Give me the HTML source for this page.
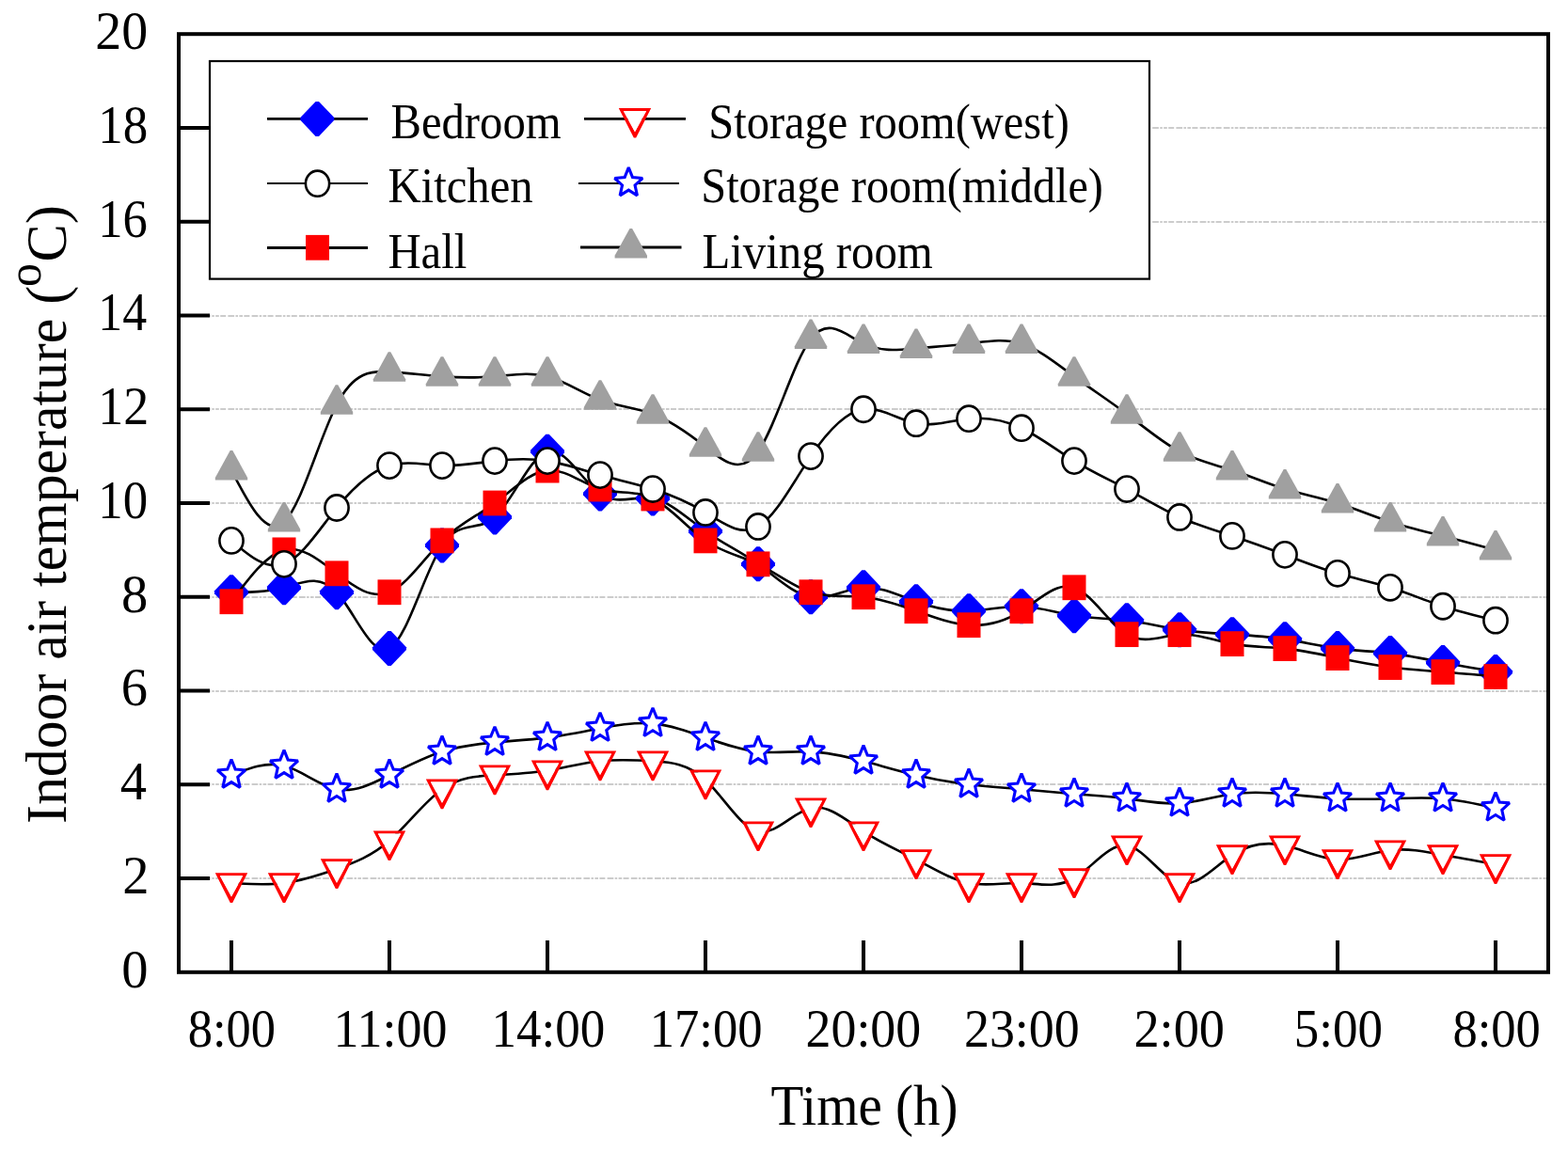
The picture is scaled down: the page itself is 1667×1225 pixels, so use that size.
<!DOCTYPE html>
<html><head><meta charset="utf-8"><title>Indoor air temperature</title>
<style>html,body{margin:0;padding:0;background:#fff;overflow:hidden}svg{display:block}</style>
</head><body>
<svg width="1667" height="1225" viewBox="0 0 1667 1225" font-family="'Liberation Serif','Times New Roman',serif">
<rect width="1667" height="1225" fill="#fff"/>
<line x1="192" y1="934.00" x2="1644" y2="934.00" stroke="#cccccc" stroke-width="2" stroke-dasharray="6.7,1.4,2.5,1.4,3.6,1.4,6,2.2"/>
<line x1="192" y1="834.00" x2="1644" y2="834.00" stroke="#cccccc" stroke-width="2" stroke-dasharray="6.7,1.4,2.5,1.4,3.6,1.4,6,2.2"/>
<line x1="192" y1="735.00" x2="1644" y2="735.00" stroke="#cccccc" stroke-width="2" stroke-dasharray="6.7,1.4,2.5,1.4,3.6,1.4,6,2.2"/>
<line x1="192" y1="635.00" x2="1644" y2="635.00" stroke="#cccccc" stroke-width="2" stroke-dasharray="6.7,1.4,2.5,1.4,3.6,1.4,6,2.2"/>
<line x1="192" y1="535.00" x2="1644" y2="535.00" stroke="#cccccc" stroke-width="2" stroke-dasharray="6.7,1.4,2.5,1.4,3.6,1.4,6,2.2"/>
<line x1="192" y1="435.00" x2="1644" y2="435.00" stroke="#cccccc" stroke-width="2" stroke-dasharray="6.7,1.4,2.5,1.4,3.6,1.4,6,2.2"/>
<line x1="192" y1="336.00" x2="1644" y2="336.00" stroke="#cccccc" stroke-width="2" stroke-dasharray="6.7,1.4,2.5,1.4,3.6,1.4,6,2.2"/>
<line x1="192" y1="236.00" x2="1644" y2="236.00" stroke="#cccccc" stroke-width="2" stroke-dasharray="6.7,1.4,2.5,1.4,3.6,1.4,6,2.2"/>
<line x1="192" y1="136.00" x2="1644" y2="136.00" stroke="#cccccc" stroke-width="2" stroke-dasharray="6.7,1.4,2.5,1.4,3.6,1.4,6,2.2"/>
<path d="M246.00,629.76 C264.67,629.78 283.33,629.80 302.00,624.78 C320.67,619.75 339.33,609.69 358.00,629.76 C376.67,649.84 395.33,700.06 414.00,689.61 C432.67,679.16 451.33,608.05 470.00,579.89 C488.67,551.73 507.33,566.53 526.00,549.96 C544.67,533.40 563.33,485.47 582.00,480.14 C600.67,474.81 619.33,512.08 638.00,525.03 C656.67,537.97 675.33,526.59 694.00,530.01 C712.67,533.43 731.33,551.66 750.00,564.92 C768.67,578.19 787.33,586.50 806.00,599.84 C824.67,613.18 843.33,631.54 862.00,634.75 C880.67,637.96 899.33,626.00 918.00,624.78 C936.67,623.55 955.33,633.05 974.00,639.74 C992.67,646.42 1011.33,650.30 1030.00,649.71 C1048.67,649.13 1067.33,644.09 1086.00,644.73 C1104.67,645.36 1123.33,651.68 1142.00,654.70 C1160.67,657.72 1179.33,657.43 1198.00,659.69 C1216.67,661.95 1235.33,666.75 1254.00,669.66 C1272.67,672.58 1291.33,673.60 1310.00,674.65 C1328.67,675.70 1347.33,676.78 1366.00,679.64 C1384.67,682.50 1403.33,687.14 1422.00,689.61 C1440.67,692.09 1459.33,692.39 1478.00,694.60 C1496.67,696.81 1515.33,700.93 1534.00,704.58 C1552.67,708.22 1571.33,711.38 1590.00,714.55" fill="none" stroke="#000" stroke-width="2.6"/>
<path d="M244.30,611.26 L247.70,611.26 L264.00,628.36 L264.00,631.16 L247.70,648.26 L244.30,648.26 L228.00,631.16 L228.00,628.36Z" fill="#00f"/><path d="M300.30,606.28 L303.70,606.28 L320.00,623.38 L320.00,626.18 L303.70,643.28 L300.30,643.28 L284.00,626.18 L284.00,623.38Z" fill="#00f"/><path d="M356.30,611.26 L359.70,611.26 L376.00,628.36 L376.00,631.16 L359.70,648.26 L356.30,648.26 L340.00,631.16 L340.00,628.36Z" fill="#00f"/><path d="M412.30,671.11 L415.70,671.11 L432.00,688.21 L432.00,691.01 L415.70,708.11 L412.30,708.11 L396.00,691.01 L396.00,688.21Z" fill="#00f"/><path d="M468.30,561.39 L471.70,561.39 L488.00,578.49 L488.00,581.29 L471.70,598.39 L468.30,598.39 L452.00,581.29 L452.00,578.49Z" fill="#00f"/><path d="M524.30,531.46 L527.70,531.46 L544.00,548.56 L544.00,551.36 L527.70,568.46 L524.30,568.46 L508.00,551.36 L508.00,548.56Z" fill="#00f"/><path d="M580.30,461.64 L583.70,461.64 L600.00,478.74 L600.00,481.54 L583.70,498.64 L580.30,498.64 L564.00,481.54 L564.00,478.74Z" fill="#00f"/><path d="M636.30,506.53 L639.70,506.53 L656.00,523.63 L656.00,526.43 L639.70,543.53 L636.30,543.53 L620.00,526.43 L620.00,523.63Z" fill="#00f"/><path d="M692.30,511.51 L695.70,511.51 L712.00,528.61 L712.00,531.41 L695.70,548.51 L692.30,548.51 L676.00,531.41 L676.00,528.61Z" fill="#00f"/><path d="M748.30,546.42 L751.70,546.42 L768.00,563.52 L768.00,566.32 L751.70,583.42 L748.30,583.42 L732.00,566.32 L732.00,563.52Z" fill="#00f"/><path d="M804.30,581.34 L807.70,581.34 L824.00,598.44 L824.00,601.24 L807.70,618.34 L804.30,618.34 L788.00,601.24 L788.00,598.44Z" fill="#00f"/><path d="M860.30,616.25 L863.70,616.25 L880.00,633.35 L880.00,636.15 L863.70,653.25 L860.30,653.25 L844.00,636.15 L844.00,633.35Z" fill="#00f"/><path d="M916.30,606.28 L919.70,606.28 L936.00,623.38 L936.00,626.18 L919.70,643.28 L916.30,643.28 L900.00,626.18 L900.00,623.38Z" fill="#00f"/><path d="M972.30,621.24 L975.70,621.24 L992.00,638.34 L992.00,641.14 L975.70,658.24 L972.30,658.24 L956.00,641.14 L956.00,638.34Z" fill="#00f"/><path d="M1028.30,631.21 L1031.70,631.21 L1048.00,648.31 L1048.00,651.11 L1031.70,668.21 L1028.30,668.21 L1012.00,651.11 L1012.00,648.31Z" fill="#00f"/><path d="M1084.30,626.23 L1087.70,626.23 L1104.00,643.33 L1104.00,646.12 L1087.70,663.23 L1084.30,663.23 L1068.00,646.12 L1068.00,643.33Z" fill="#00f"/><path d="M1140.30,636.20 L1143.70,636.20 L1160.00,653.30 L1160.00,656.10 L1143.70,673.20 L1140.30,673.20 L1124.00,656.10 L1124.00,653.30Z" fill="#00f"/><path d="M1196.30,641.19 L1199.70,641.19 L1216.00,658.29 L1216.00,661.09 L1199.70,678.19 L1196.30,678.19 L1180.00,661.09 L1180.00,658.29Z" fill="#00f"/><path d="M1252.30,651.16 L1255.70,651.16 L1272.00,668.26 L1272.00,671.06 L1255.70,688.16 L1252.30,688.16 L1236.00,671.06 L1236.00,668.26Z" fill="#00f"/><path d="M1308.30,656.15 L1311.70,656.15 L1328.00,673.25 L1328.00,676.05 L1311.70,693.15 L1308.30,693.15 L1292.00,676.05 L1292.00,673.25Z" fill="#00f"/><path d="M1364.30,661.14 L1367.70,661.14 L1384.00,678.24 L1384.00,681.04 L1367.70,698.14 L1364.30,698.14 L1348.00,681.04 L1348.00,678.24Z" fill="#00f"/><path d="M1420.30,671.11 L1423.70,671.11 L1440.00,688.21 L1440.00,691.01 L1423.70,708.11 L1420.30,708.11 L1404.00,691.01 L1404.00,688.21Z" fill="#00f"/><path d="M1476.30,676.10 L1479.70,676.10 L1496.00,693.20 L1496.00,696.00 L1479.70,713.10 L1476.30,713.10 L1460.00,696.00 L1460.00,693.20Z" fill="#00f"/><path d="M1532.30,686.08 L1535.70,686.08 L1552.00,703.18 L1552.00,705.98 L1535.70,723.08 L1532.30,723.08 L1516.00,705.98 L1516.00,703.18Z" fill="#00f"/><path d="M1588.30,696.05 L1591.70,696.05 L1608.00,713.15 L1608.00,715.95 L1591.70,733.05 L1588.30,733.05 L1572.00,715.95 L1572.00,713.15Z" fill="#00f"/>
<path d="M246.00,639.74 C264.67,614.71 283.33,589.69 302.00,584.88 C320.67,580.06 339.33,595.45 358.00,609.81 C376.67,624.17 395.33,637.50 414.00,629.76 C432.67,622.03 451.33,593.24 470.00,574.90 C488.67,556.56 507.33,548.69 526.00,535.00 C544.67,521.31 563.33,501.82 582.00,500.09 C600.67,498.36 619.33,514.39 638.00,520.04 C656.67,525.68 675.33,520.95 694.00,530.01 C712.67,539.08 731.33,561.95 750.00,574.90 C768.67,587.85 787.33,590.87 806.00,599.84 C824.67,608.81 843.33,623.73 862.00,629.76 C880.67,635.80 899.33,632.95 918.00,634.75 C936.67,636.55 955.33,643.01 974.00,649.71 C992.67,656.42 1011.33,663.38 1030.00,664.67 C1048.67,665.97 1067.33,661.62 1086.00,649.71 C1104.67,637.81 1123.33,618.35 1142.00,624.78 C1160.67,631.20 1179.33,663.49 1198.00,674.65 C1216.67,685.81 1235.33,675.84 1254.00,674.65 C1272.67,673.46 1291.33,681.05 1310.00,684.62 C1328.67,688.20 1347.33,687.74 1366.00,689.61 C1384.67,691.48 1403.33,695.67 1422.00,699.59 C1440.67,703.51 1459.33,707.17 1478.00,709.56 C1496.67,711.96 1515.33,713.10 1534.00,714.55 C1552.67,716.00 1571.33,717.77 1590.00,719.54" fill="none" stroke="#000" stroke-width="2.6"/>
<rect x="233.50" y="626.34" width="25" height="26.8" fill="#f00"/><rect x="289.50" y="571.48" width="25" height="26.8" fill="#f00"/><rect x="345.50" y="596.41" width="25" height="26.8" fill="#f00"/><rect x="401.50" y="616.36" width="25" height="26.8" fill="#f00"/><rect x="457.50" y="561.50" width="25" height="26.8" fill="#f00"/><rect x="513.50" y="521.60" width="25" height="26.8" fill="#f00"/><rect x="569.50" y="486.69" width="25" height="26.8" fill="#f00"/><rect x="625.50" y="506.64" width="25" height="26.8" fill="#f00"/><rect x="681.50" y="516.61" width="25" height="26.8" fill="#f00"/><rect x="737.50" y="561.50" width="25" height="26.8" fill="#f00"/><rect x="793.50" y="586.44" width="25" height="26.8" fill="#f00"/><rect x="849.50" y="616.36" width="25" height="26.8" fill="#f00"/><rect x="905.50" y="621.35" width="25" height="26.8" fill="#f00"/><rect x="961.50" y="636.31" width="25" height="26.8" fill="#f00"/><rect x="1017.50" y="651.27" width="25" height="26.8" fill="#f00"/><rect x="1073.50" y="636.31" width="25" height="26.8" fill="#f00"/><rect x="1129.50" y="611.38" width="25" height="26.8" fill="#f00"/><rect x="1185.50" y="661.25" width="25" height="26.8" fill="#f00"/><rect x="1241.50" y="661.25" width="25" height="26.8" fill="#f00"/><rect x="1297.50" y="671.23" width="25" height="26.8" fill="#f00"/><rect x="1353.50" y="676.21" width="25" height="26.8" fill="#f00"/><rect x="1409.50" y="686.19" width="25" height="26.8" fill="#f00"/><rect x="1465.50" y="696.16" width="25" height="26.8" fill="#f00"/><rect x="1521.50" y="701.15" width="25" height="26.8" fill="#f00"/><rect x="1577.50" y="706.14" width="25" height="26.8" fill="#f00"/>
<path d="M246.00,574.90 C264.67,590.85 283.33,606.79 302.00,599.84 C320.67,592.88 339.33,563.02 358.00,539.99 C376.67,516.95 395.33,500.74 414.00,495.10 C432.67,489.46 451.33,494.40 470.00,495.10 C488.67,495.80 507.33,492.28 526.00,490.11 C544.67,487.95 563.33,487.15 582.00,490.11 C600.67,493.07 619.33,499.80 638.00,505.08 C656.67,510.35 675.33,514.19 694.00,520.04 C712.67,525.89 731.33,533.76 750.00,544.97 C768.67,556.19 787.33,570.76 806.00,559.94 C824.67,549.12 843.33,512.92 862.00,485.12 C880.67,457.33 899.33,437.94 918.00,435.25 C936.67,432.56 955.33,446.58 974.00,450.21 C992.67,453.84 1011.33,447.09 1030.00,445.22 C1048.67,443.36 1067.33,446.39 1086.00,455.20 C1104.67,464.01 1123.33,478.60 1142.00,490.11 C1160.67,501.63 1179.33,510.07 1198.00,520.04 C1216.67,530.01 1235.33,541.51 1254.00,549.96 C1272.67,558.42 1291.33,563.82 1310.00,569.91 C1328.67,576.01 1347.33,582.79 1366.00,589.86 C1384.67,596.94 1403.33,604.30 1422.00,609.81 C1440.67,615.32 1459.33,618.97 1478.00,624.78 C1496.67,630.58 1515.33,638.55 1534.00,644.73 C1552.67,650.90 1571.33,655.30 1590.00,659.69" fill="none" stroke="#000" stroke-width="2.6"/>
<ellipse cx="246.00" cy="574.90" rx="12.6" ry="13.6" fill="#fff" stroke="#000" stroke-width="2.6"/><ellipse cx="302.00" cy="599.84" rx="12.6" ry="13.6" fill="#fff" stroke="#000" stroke-width="2.6"/><ellipse cx="358.00" cy="539.99" rx="12.6" ry="13.6" fill="#fff" stroke="#000" stroke-width="2.6"/><ellipse cx="414.00" cy="495.10" rx="12.6" ry="13.6" fill="#fff" stroke="#000" stroke-width="2.6"/><ellipse cx="470.00" cy="495.10" rx="12.6" ry="13.6" fill="#fff" stroke="#000" stroke-width="2.6"/><ellipse cx="526.00" cy="490.11" rx="12.6" ry="13.6" fill="#fff" stroke="#000" stroke-width="2.6"/><ellipse cx="582.00" cy="490.11" rx="12.6" ry="13.6" fill="#fff" stroke="#000" stroke-width="2.6"/><ellipse cx="638.00" cy="505.08" rx="12.6" ry="13.6" fill="#fff" stroke="#000" stroke-width="2.6"/><ellipse cx="694.00" cy="520.04" rx="12.6" ry="13.6" fill="#fff" stroke="#000" stroke-width="2.6"/><ellipse cx="750.00" cy="544.97" rx="12.6" ry="13.6" fill="#fff" stroke="#000" stroke-width="2.6"/><ellipse cx="806.00" cy="559.94" rx="12.6" ry="13.6" fill="#fff" stroke="#000" stroke-width="2.6"/><ellipse cx="862.00" cy="485.12" rx="12.6" ry="13.6" fill="#fff" stroke="#000" stroke-width="2.6"/><ellipse cx="918.00" cy="435.25" rx="12.6" ry="13.6" fill="#fff" stroke="#000" stroke-width="2.6"/><ellipse cx="974.00" cy="450.21" rx="12.6" ry="13.6" fill="#fff" stroke="#000" stroke-width="2.6"/><ellipse cx="1030.00" cy="445.22" rx="12.6" ry="13.6" fill="#fff" stroke="#000" stroke-width="2.6"/><ellipse cx="1086.00" cy="455.20" rx="12.6" ry="13.6" fill="#fff" stroke="#000" stroke-width="2.6"/><ellipse cx="1142.00" cy="490.11" rx="12.6" ry="13.6" fill="#fff" stroke="#000" stroke-width="2.6"/><ellipse cx="1198.00" cy="520.04" rx="12.6" ry="13.6" fill="#fff" stroke="#000" stroke-width="2.6"/><ellipse cx="1254.00" cy="549.96" rx="12.6" ry="13.6" fill="#fff" stroke="#000" stroke-width="2.6"/><ellipse cx="1310.00" cy="569.91" rx="12.6" ry="13.6" fill="#fff" stroke="#000" stroke-width="2.6"/><ellipse cx="1366.00" cy="589.86" rx="12.6" ry="13.6" fill="#fff" stroke="#000" stroke-width="2.6"/><ellipse cx="1422.00" cy="609.81" rx="12.6" ry="13.6" fill="#fff" stroke="#000" stroke-width="2.6"/><ellipse cx="1478.00" cy="624.78" rx="12.6" ry="13.6" fill="#fff" stroke="#000" stroke-width="2.6"/><ellipse cx="1534.00" cy="644.73" rx="12.6" ry="13.6" fill="#fff" stroke="#000" stroke-width="2.6"/><ellipse cx="1590.00" cy="659.69" rx="12.6" ry="13.6" fill="#fff" stroke="#000" stroke-width="2.6"/>
<path d="M246.00,938.99 C264.67,940.19 283.33,941.39 302.00,938.99 C320.67,936.58 339.33,930.58 358.00,924.02 C376.67,917.47 395.33,910.37 414.00,894.10 C432.67,877.83 451.33,852.39 470.00,839.24 C488.67,826.09 507.33,825.23 526.00,824.27 C544.67,823.32 563.33,822.28 582.00,819.29 C600.67,816.29 619.33,811.35 638.00,809.31 C656.67,807.28 675.33,808.16 694.00,809.31 C712.67,810.47 731.33,811.89 750.00,829.26 C768.67,846.64 787.33,879.96 806.00,884.12 C824.67,888.29 843.33,863.31 862.00,859.19 C880.67,855.07 899.33,871.81 918.00,884.12 C936.67,896.44 955.33,904.33 974.00,914.05 C992.67,923.77 1011.33,935.32 1030.00,938.99 C1048.67,942.66 1067.33,938.45 1086.00,938.99 C1104.67,939.52 1123.33,944.79 1142.00,934.00 C1160.67,923.21 1179.33,896.36 1198.00,899.09 C1216.67,901.82 1235.33,934.12 1254.00,938.99 C1272.67,943.85 1291.33,921.28 1310.00,909.06 C1328.67,896.85 1347.33,894.99 1366.00,899.09 C1384.67,903.19 1403.33,913.25 1422.00,914.05 C1440.67,914.85 1459.33,906.40 1478.00,904.08 C1496.67,901.75 1515.33,905.55 1534.00,909.06 C1552.67,912.58 1571.33,915.81 1590.00,919.04" fill="none" stroke="#000" stroke-width="2.6"/>
<path d="M228.80,928.29 L263.20,928.29 L247.20,959.89 L244.80,959.89Z M246.00,953.61 L258.15,931.29 L233.85,931.29Z" fill="#f00" fill-rule="evenodd"/><path d="M233.85,931.29 L258.15,931.29 L246.00,953.61Z" fill="#fff"/><path d="M284.80,928.29 L319.20,928.29 L303.20,959.89 L300.80,959.89Z M302.00,953.61 L314.15,931.29 L289.85,931.29Z" fill="#f00" fill-rule="evenodd"/><path d="M289.85,931.29 L314.15,931.29 L302.00,953.61Z" fill="#fff"/><path d="M340.80,913.32 L375.20,913.32 L359.20,944.92 L356.80,944.92Z M358.00,938.65 L370.15,916.32 L345.85,916.32Z" fill="#f00" fill-rule="evenodd"/><path d="M345.85,916.32 L370.15,916.32 L358.00,938.65Z" fill="#fff"/><path d="M396.80,883.40 L431.20,883.40 L415.20,915.00 L412.80,915.00Z M414.00,908.72 L426.15,886.40 L401.85,886.40Z" fill="#f00" fill-rule="evenodd"/><path d="M401.85,886.40 L426.15,886.40 L414.00,908.72Z" fill="#fff"/><path d="M452.80,828.54 L487.20,828.54 L471.20,860.14 L468.80,860.14Z M470.00,853.86 L482.15,831.54 L457.85,831.54Z" fill="#f00" fill-rule="evenodd"/><path d="M457.85,831.54 L482.15,831.54 L470.00,853.86Z" fill="#fff"/><path d="M508.80,813.57 L543.20,813.57 L527.20,845.17 L524.80,845.17Z M526.00,838.90 L538.15,816.57 L513.85,816.57Z" fill="#f00" fill-rule="evenodd"/><path d="M513.85,816.57 L538.15,816.57 L526.00,838.90Z" fill="#fff"/><path d="M564.80,808.59 L599.20,808.59 L583.20,840.19 L580.80,840.19Z M582.00,833.91 L594.15,811.59 L569.85,811.59Z" fill="#f00" fill-rule="evenodd"/><path d="M569.85,811.59 L594.15,811.59 L582.00,833.91Z" fill="#fff"/><path d="M620.80,798.61 L655.20,798.61 L639.20,830.21 L636.80,830.21Z M638.00,823.94 L650.15,801.61 L625.85,801.61Z" fill="#f00" fill-rule="evenodd"/><path d="M625.85,801.61 L650.15,801.61 L638.00,823.94Z" fill="#fff"/><path d="M676.80,798.61 L711.20,798.61 L695.20,830.21 L692.80,830.21Z M694.00,823.94 L706.15,801.61 L681.85,801.61Z" fill="#f00" fill-rule="evenodd"/><path d="M681.85,801.61 L706.15,801.61 L694.00,823.94Z" fill="#fff"/><path d="M732.80,818.56 L767.20,818.56 L751.20,850.16 L748.80,850.16Z M750.00,843.89 L762.15,821.56 L737.85,821.56Z" fill="#f00" fill-rule="evenodd"/><path d="M737.85,821.56 L762.15,821.56 L750.00,843.89Z" fill="#fff"/><path d="M788.80,873.42 L823.20,873.42 L807.20,905.02 L804.80,905.02Z M806.00,898.75 L818.15,876.42 L793.85,876.42Z" fill="#f00" fill-rule="evenodd"/><path d="M793.85,876.42 L818.15,876.42 L806.00,898.75Z" fill="#fff"/><path d="M844.80,848.49 L879.20,848.49 L863.20,880.09 L860.80,880.09Z M862.00,873.81 L874.15,851.49 L849.85,851.49Z" fill="#f00" fill-rule="evenodd"/><path d="M849.85,851.49 L874.15,851.49 L862.00,873.81Z" fill="#fff"/><path d="M900.80,873.42 L935.20,873.42 L919.20,905.02 L916.80,905.02Z M918.00,898.75 L930.15,876.42 L905.85,876.42Z" fill="#f00" fill-rule="evenodd"/><path d="M905.85,876.42 L930.15,876.42 L918.00,898.75Z" fill="#fff"/><path d="M956.80,903.35 L991.20,903.35 L975.20,934.95 L972.80,934.95Z M974.00,928.67 L986.15,906.35 L961.85,906.35Z" fill="#f00" fill-rule="evenodd"/><path d="M961.85,906.35 L986.15,906.35 L974.00,928.67Z" fill="#fff"/><path d="M1012.80,928.29 L1047.20,928.29 L1031.20,959.89 L1028.80,959.89Z M1030.00,953.61 L1042.15,931.29 L1017.85,931.29Z" fill="#f00" fill-rule="evenodd"/><path d="M1017.85,931.29 L1042.15,931.29 L1030.00,953.61Z" fill="#fff"/><path d="M1068.80,928.29 L1103.20,928.29 L1087.20,959.89 L1084.80,959.89Z M1086.00,953.61 L1098.15,931.29 L1073.85,931.29Z" fill="#f00" fill-rule="evenodd"/><path d="M1073.85,931.29 L1098.15,931.29 L1086.00,953.61Z" fill="#fff"/><path d="M1124.80,923.30 L1159.20,923.30 L1143.20,954.90 L1140.80,954.90Z M1142.00,948.62 L1154.15,926.30 L1129.85,926.30Z" fill="#f00" fill-rule="evenodd"/><path d="M1129.85,926.30 L1154.15,926.30 L1142.00,948.62Z" fill="#fff"/><path d="M1180.80,888.39 L1215.20,888.39 L1199.20,919.99 L1196.80,919.99Z M1198.00,913.71 L1210.15,891.39 L1185.85,891.39Z" fill="#f00" fill-rule="evenodd"/><path d="M1185.85,891.39 L1210.15,891.39 L1198.00,913.71Z" fill="#fff"/><path d="M1236.80,928.29 L1271.20,928.29 L1255.20,959.89 L1252.80,959.89Z M1254.00,953.61 L1266.15,931.29 L1241.85,931.29Z" fill="#f00" fill-rule="evenodd"/><path d="M1241.85,931.29 L1266.15,931.29 L1254.00,953.61Z" fill="#fff"/><path d="M1292.80,898.36 L1327.20,898.36 L1311.20,929.96 L1308.80,929.96Z M1310.00,923.69 L1322.15,901.36 L1297.85,901.36Z" fill="#f00" fill-rule="evenodd"/><path d="M1297.85,901.36 L1322.15,901.36 L1310.00,923.69Z" fill="#fff"/><path d="M1348.80,888.39 L1383.20,888.39 L1367.20,919.99 L1364.80,919.99Z M1366.00,913.71 L1378.15,891.39 L1353.85,891.39Z" fill="#f00" fill-rule="evenodd"/><path d="M1353.85,891.39 L1378.15,891.39 L1366.00,913.71Z" fill="#fff"/><path d="M1404.80,903.35 L1439.20,903.35 L1423.20,934.95 L1420.80,934.95Z M1422.00,928.67 L1434.15,906.35 L1409.85,906.35Z" fill="#f00" fill-rule="evenodd"/><path d="M1409.85,906.35 L1434.15,906.35 L1422.00,928.67Z" fill="#fff"/><path d="M1460.80,893.38 L1495.20,893.38 L1479.20,924.98 L1476.80,924.98Z M1478.00,918.70 L1490.15,896.38 L1465.85,896.38Z" fill="#f00" fill-rule="evenodd"/><path d="M1465.85,896.38 L1490.15,896.38 L1478.00,918.70Z" fill="#fff"/><path d="M1516.80,898.36 L1551.20,898.36 L1535.20,929.96 L1532.80,929.96Z M1534.00,923.69 L1546.15,901.36 L1521.85,901.36Z" fill="#f00" fill-rule="evenodd"/><path d="M1521.85,901.36 L1546.15,901.36 L1534.00,923.69Z" fill="#fff"/><path d="M1572.80,908.34 L1607.20,908.34 L1591.20,939.94 L1588.80,939.94Z M1590.00,933.66 L1602.15,911.34 L1577.85,911.34Z" fill="#f00" fill-rule="evenodd"/><path d="M1577.85,911.34 L1602.15,911.34 L1590.00,933.66Z" fill="#fff"/>
<path d="M246.00,824.27 C264.67,816.96 283.33,809.65 302.00,814.30 C320.67,818.95 339.33,835.55 358.00,839.24 C376.67,842.92 395.33,833.68 414.00,824.27 C432.67,814.87 451.33,805.30 470.00,799.34 C488.67,793.37 507.33,791.00 526.00,789.36 C544.67,787.72 563.33,786.81 582.00,784.38 C600.67,781.94 619.33,777.97 638.00,774.40 C656.67,770.83 675.33,767.67 694.00,769.41 C712.67,771.16 731.33,777.80 750.00,784.38 C768.67,790.95 787.33,797.44 806.00,799.34 C824.67,801.24 843.33,798.55 862.00,799.34 C880.67,800.12 899.33,804.39 918.00,809.31 C936.67,814.24 955.33,819.83 974.00,824.27 C992.67,828.72 1011.33,832.01 1030.00,834.25 C1048.67,836.49 1067.33,837.68 1086.00,839.24 C1104.67,840.80 1123.33,842.73 1142.00,844.23 C1160.67,845.72 1179.33,846.79 1198.00,849.21 C1216.67,851.63 1235.33,855.40 1254.00,854.20 C1272.67,853.00 1291.33,846.83 1310.00,844.23 C1328.67,841.62 1347.33,842.58 1366.00,844.23 C1384.67,845.87 1403.33,848.21 1422.00,849.21 C1440.67,850.21 1459.33,849.86 1478.00,849.21 C1496.67,848.56 1515.33,847.60 1534.00,849.21 C1552.67,850.82 1571.33,855.01 1590.00,859.19" fill="none" stroke="#000" stroke-width="2.6"/>
<path d="M246.00,807.64 L250.18,818.00 L260.81,819.00 L252.76,826.39 L255.15,837.37 L246.00,831.58 L236.85,837.37 L239.24,826.39 L231.19,819.00 L241.82,818.00Z" fill="#fff" stroke="#00f" stroke-width="3.1" stroke-linejoin="miter" stroke-miterlimit="2.2"/><path d="M302.00,797.66 L306.18,808.03 L316.81,809.02 L308.76,816.42 L311.15,827.40 L302.00,821.60 L292.85,827.40 L295.24,816.42 L287.19,809.02 L297.82,808.03Z" fill="#fff" stroke="#00f" stroke-width="3.1" stroke-linejoin="miter" stroke-miterlimit="2.2"/><path d="M358.00,822.60 L362.18,832.97 L372.81,833.96 L364.76,841.36 L367.15,852.33 L358.00,846.54 L348.85,852.33 L351.24,841.36 L343.19,833.96 L353.82,832.97Z" fill="#fff" stroke="#00f" stroke-width="3.1" stroke-linejoin="miter" stroke-miterlimit="2.2"/><path d="M414.00,807.64 L418.18,818.00 L428.81,819.00 L420.76,826.39 L423.15,837.37 L414.00,831.58 L404.85,837.37 L407.24,826.39 L399.19,819.00 L409.82,818.00Z" fill="#fff" stroke="#00f" stroke-width="3.1" stroke-linejoin="miter" stroke-miterlimit="2.2"/><path d="M470.00,782.70 L474.18,793.07 L484.81,794.06 L476.76,801.46 L479.15,812.43 L470.00,806.64 L460.85,812.43 L463.24,801.46 L455.19,794.06 L465.82,793.07Z" fill="#fff" stroke="#00f" stroke-width="3.1" stroke-linejoin="miter" stroke-miterlimit="2.2"/><path d="M526.00,772.73 L530.18,783.09 L540.81,784.08 L532.76,791.48 L535.15,802.46 L526.00,796.67 L516.85,802.46 L519.24,791.48 L511.19,784.08 L521.82,783.09Z" fill="#fff" stroke="#00f" stroke-width="3.1" stroke-linejoin="miter" stroke-miterlimit="2.2"/><path d="M582.00,767.74 L586.18,778.10 L596.81,779.10 L588.76,786.49 L591.15,797.47 L582.00,791.68 L572.85,797.47 L575.24,786.49 L567.19,779.10 L577.82,778.10Z" fill="#fff" stroke="#00f" stroke-width="3.1" stroke-linejoin="miter" stroke-miterlimit="2.2"/><path d="M638.00,757.76 L642.18,768.13 L652.81,769.12 L644.76,776.52 L647.15,787.50 L638.00,781.70 L628.85,787.50 L631.24,776.52 L623.19,769.12 L633.82,768.13Z" fill="#fff" stroke="#00f" stroke-width="3.1" stroke-linejoin="miter" stroke-miterlimit="2.2"/><path d="M694.00,752.78 L698.18,763.14 L708.81,764.13 L700.76,771.53 L703.15,782.51 L694.00,776.72 L684.85,782.51 L687.24,771.53 L679.19,764.13 L689.82,763.14Z" fill="#fff" stroke="#00f" stroke-width="3.1" stroke-linejoin="miter" stroke-miterlimit="2.2"/><path d="M750.00,767.74 L754.18,778.10 L764.81,779.10 L756.76,786.49 L759.15,797.47 L750.00,791.68 L740.85,797.47 L743.24,786.49 L735.19,779.10 L745.82,778.10Z" fill="#fff" stroke="#00f" stroke-width="3.1" stroke-linejoin="miter" stroke-miterlimit="2.2"/><path d="M806.00,782.70 L810.18,793.07 L820.81,794.06 L812.76,801.46 L815.15,812.43 L806.00,806.64 L796.85,812.43 L799.24,801.46 L791.19,794.06 L801.82,793.07Z" fill="#fff" stroke="#00f" stroke-width="3.1" stroke-linejoin="miter" stroke-miterlimit="2.2"/><path d="M862.00,782.70 L866.18,793.07 L876.81,794.06 L868.76,801.46 L871.15,812.43 L862.00,806.64 L852.85,812.43 L855.24,801.46 L847.19,794.06 L857.82,793.07Z" fill="#fff" stroke="#00f" stroke-width="3.1" stroke-linejoin="miter" stroke-miterlimit="2.2"/><path d="M918.00,792.68 L922.18,803.04 L932.81,804.03 L924.76,811.43 L927.15,822.41 L918.00,816.62 L908.85,822.41 L911.24,811.43 L903.19,804.03 L913.82,803.04Z" fill="#fff" stroke="#00f" stroke-width="3.1" stroke-linejoin="miter" stroke-miterlimit="2.2"/><path d="M974.00,807.64 L978.18,818.00 L988.81,819.00 L980.76,826.39 L983.15,837.37 L974.00,831.58 L964.85,837.37 L967.24,826.39 L959.19,819.00 L969.82,818.00Z" fill="#fff" stroke="#00f" stroke-width="3.1" stroke-linejoin="miter" stroke-miterlimit="2.2"/><path d="M1030.00,817.62 L1034.18,827.98 L1044.81,828.97 L1036.76,836.37 L1039.15,847.35 L1030.00,841.55 L1020.85,847.35 L1023.24,836.37 L1015.19,828.97 L1025.82,827.98Z" fill="#fff" stroke="#00f" stroke-width="3.1" stroke-linejoin="miter" stroke-miterlimit="2.2"/><path d="M1086.00,822.60 L1090.18,832.97 L1100.81,833.96 L1092.76,841.36 L1095.15,852.33 L1086.00,846.54 L1076.85,852.33 L1079.24,841.36 L1071.19,833.96 L1081.82,832.97Z" fill="#fff" stroke="#00f" stroke-width="3.1" stroke-linejoin="miter" stroke-miterlimit="2.2"/><path d="M1142.00,827.59 L1146.18,837.95 L1156.81,838.95 L1148.76,846.34 L1151.15,857.32 L1142.00,851.53 L1132.85,857.32 L1135.24,846.34 L1127.19,838.95 L1137.82,837.95Z" fill="#fff" stroke="#00f" stroke-width="3.1" stroke-linejoin="miter" stroke-miterlimit="2.2"/><path d="M1198.00,832.58 L1202.18,842.94 L1212.81,843.93 L1204.76,851.33 L1207.15,862.31 L1198.00,856.52 L1188.85,862.31 L1191.24,851.33 L1183.19,843.93 L1193.82,842.94Z" fill="#fff" stroke="#00f" stroke-width="3.1" stroke-linejoin="miter" stroke-miterlimit="2.2"/><path d="M1254.00,837.57 L1258.18,847.93 L1268.81,848.92 L1260.76,856.32 L1263.15,867.30 L1254.00,861.50 L1244.85,867.30 L1247.24,856.32 L1239.19,848.92 L1249.82,847.93Z" fill="#fff" stroke="#00f" stroke-width="3.1" stroke-linejoin="miter" stroke-miterlimit="2.2"/><path d="M1310.00,827.59 L1314.18,837.95 L1324.81,838.95 L1316.76,846.34 L1319.15,857.32 L1310.00,851.53 L1300.85,857.32 L1303.24,846.34 L1295.19,838.95 L1305.82,837.95Z" fill="#fff" stroke="#00f" stroke-width="3.1" stroke-linejoin="miter" stroke-miterlimit="2.2"/><path d="M1366.00,827.59 L1370.18,837.95 L1380.81,838.95 L1372.76,846.34 L1375.15,857.32 L1366.00,851.53 L1356.85,857.32 L1359.24,846.34 L1351.19,838.95 L1361.82,837.95Z" fill="#fff" stroke="#00f" stroke-width="3.1" stroke-linejoin="miter" stroke-miterlimit="2.2"/><path d="M1422.00,832.58 L1426.18,842.94 L1436.81,843.93 L1428.76,851.33 L1431.15,862.31 L1422.00,856.52 L1412.85,862.31 L1415.24,851.33 L1407.19,843.93 L1417.82,842.94Z" fill="#fff" stroke="#00f" stroke-width="3.1" stroke-linejoin="miter" stroke-miterlimit="2.2"/><path d="M1478.00,832.58 L1482.18,842.94 L1492.81,843.93 L1484.76,851.33 L1487.15,862.31 L1478.00,856.52 L1468.85,862.31 L1471.24,851.33 L1463.19,843.93 L1473.82,842.94Z" fill="#fff" stroke="#00f" stroke-width="3.1" stroke-linejoin="miter" stroke-miterlimit="2.2"/><path d="M1534.00,832.58 L1538.18,842.94 L1548.81,843.93 L1540.76,851.33 L1543.15,862.31 L1534.00,856.52 L1524.85,862.31 L1527.24,851.33 L1519.19,843.93 L1529.82,842.94Z" fill="#fff" stroke="#00f" stroke-width="3.1" stroke-linejoin="miter" stroke-miterlimit="2.2"/><path d="M1590.00,842.55 L1594.18,852.92 L1604.81,853.91 L1596.76,861.31 L1599.15,872.28 L1590.00,866.49 L1580.85,872.28 L1583.24,861.31 L1575.19,853.91 L1585.82,852.92Z" fill="#fff" stroke="#00f" stroke-width="3.1" stroke-linejoin="miter" stroke-miterlimit="2.2"/>
<path d="M246.00,500.09 C264.67,536.30 283.33,572.51 302.00,554.95 C320.67,537.39 339.33,466.05 358.00,430.26 C376.67,394.47 395.33,394.22 414.00,395.35 C432.67,396.48 451.33,398.98 470.00,400.34 C488.67,401.69 507.33,401.89 526.00,400.34 C544.67,398.78 563.33,395.46 582.00,400.34 C600.67,405.21 619.33,418.27 638.00,425.28 C656.67,432.28 675.33,433.22 694.00,440.24 C712.67,447.26 731.33,460.36 750.00,475.15 C768.67,489.94 787.33,506.42 806.00,480.14 C824.67,453.85 843.33,384.79 862.00,360.44 C880.67,336.08 899.33,356.42 918.00,365.42 C936.67,374.43 955.33,372.09 974.00,370.41 C992.67,368.74 1011.33,367.72 1030.00,365.42 C1048.67,363.13 1067.33,359.55 1086.00,365.42 C1104.67,371.30 1123.33,386.61 1142.00,400.34 C1160.67,414.07 1179.33,426.21 1198.00,440.24 C1216.67,454.27 1235.33,470.19 1254.00,480.14 C1272.67,490.08 1291.33,494.04 1310.00,500.09 C1328.67,506.13 1347.33,514.26 1366.00,520.04 C1384.67,525.82 1403.33,529.25 1422.00,535.00 C1440.67,540.75 1459.33,548.83 1478.00,554.95 C1496.67,561.07 1515.33,565.25 1534.00,569.91 C1552.67,574.58 1571.33,579.73 1590.00,584.88" fill="none" stroke="#000" stroke-width="2.6"/>
<path d="M244.70,479.09 L247.30,479.09 L263.20,507.89 L263.20,510.59 L228.80,510.59 L228.80,507.89Z" fill="#a0a0a0"/><path d="M300.70,533.95 L303.30,533.95 L319.20,562.75 L319.20,565.45 L284.80,565.45 L284.80,562.75Z" fill="#a0a0a0"/><path d="M356.70,409.26 L359.30,409.26 L375.20,438.06 L375.20,440.76 L340.80,440.76 L340.80,438.06Z" fill="#a0a0a0"/><path d="M412.70,374.35 L415.30,374.35 L431.20,403.15 L431.20,405.85 L396.80,405.85 L396.80,403.15Z" fill="#a0a0a0"/><path d="M468.70,379.34 L471.30,379.34 L487.20,408.14 L487.20,410.84 L452.80,410.84 L452.80,408.14Z" fill="#a0a0a0"/><path d="M524.70,379.34 L527.30,379.34 L543.20,408.14 L543.20,410.84 L508.80,410.84 L508.80,408.14Z" fill="#a0a0a0"/><path d="M580.70,379.34 L583.30,379.34 L599.20,408.14 L599.20,410.84 L564.80,410.84 L564.80,408.14Z" fill="#a0a0a0"/><path d="M636.70,404.28 L639.30,404.28 L655.20,433.08 L655.20,435.78 L620.80,435.78 L620.80,433.08Z" fill="#a0a0a0"/><path d="M692.70,419.24 L695.30,419.24 L711.20,448.04 L711.20,450.74 L676.80,450.74 L676.80,448.04Z" fill="#a0a0a0"/><path d="M748.70,454.15 L751.30,454.15 L767.20,482.95 L767.20,485.65 L732.80,485.65 L732.80,482.95Z" fill="#a0a0a0"/><path d="M804.70,459.14 L807.30,459.14 L823.20,487.94 L823.20,490.64 L788.80,490.64 L788.80,487.94Z" fill="#a0a0a0"/><path d="M860.70,339.44 L863.30,339.44 L879.20,368.24 L879.20,370.94 L844.80,370.94 L844.80,368.24Z" fill="#a0a0a0"/><path d="M916.70,344.42 L919.30,344.42 L935.20,373.22 L935.20,375.92 L900.80,375.92 L900.80,373.22Z" fill="#a0a0a0"/><path d="M972.70,349.41 L975.30,349.41 L991.20,378.21 L991.20,380.91 L956.80,380.91 L956.80,378.21Z" fill="#a0a0a0"/><path d="M1028.70,344.42 L1031.30,344.42 L1047.20,373.22 L1047.20,375.92 L1012.80,375.92 L1012.80,373.22Z" fill="#a0a0a0"/><path d="M1084.70,344.42 L1087.30,344.42 L1103.20,373.22 L1103.20,375.92 L1068.80,375.92 L1068.80,373.22Z" fill="#a0a0a0"/><path d="M1140.70,379.34 L1143.30,379.34 L1159.20,408.14 L1159.20,410.84 L1124.80,410.84 L1124.80,408.14Z" fill="#a0a0a0"/><path d="M1196.70,419.24 L1199.30,419.24 L1215.20,448.04 L1215.20,450.74 L1180.80,450.74 L1180.80,448.04Z" fill="#a0a0a0"/><path d="M1252.70,459.14 L1255.30,459.14 L1271.20,487.94 L1271.20,490.64 L1236.80,490.64 L1236.80,487.94Z" fill="#a0a0a0"/><path d="M1308.70,479.09 L1311.30,479.09 L1327.20,507.89 L1327.20,510.59 L1292.80,510.59 L1292.80,507.89Z" fill="#a0a0a0"/><path d="M1364.70,499.04 L1367.30,499.04 L1383.20,527.84 L1383.20,530.54 L1348.80,530.54 L1348.80,527.84Z" fill="#a0a0a0"/><path d="M1420.70,514.00 L1423.30,514.00 L1439.20,542.80 L1439.20,545.50 L1404.80,545.50 L1404.80,542.80Z" fill="#a0a0a0"/><path d="M1476.70,533.95 L1479.30,533.95 L1495.20,562.75 L1495.20,565.45 L1460.80,565.45 L1460.80,562.75Z" fill="#a0a0a0"/><path d="M1532.70,548.91 L1535.30,548.91 L1551.20,577.71 L1551.20,580.41 L1516.80,580.41 L1516.80,577.71Z" fill="#a0a0a0"/><path d="M1588.70,563.88 L1591.30,563.88 L1607.20,592.67 L1607.20,595.38 L1572.80,595.38 L1572.80,592.67Z" fill="#a0a0a0"/>
<rect x="190" y="36.2" width="1456" height="997.6" fill="none" stroke="#000" stroke-width="4"/>
<line x1="190" y1="934.00" x2="223" y2="934.00" stroke="#000" stroke-width="4"/>
<line x1="190" y1="834.25" x2="223" y2="834.25" stroke="#000" stroke-width="4"/>
<line x1="190" y1="734.50" x2="223" y2="734.50" stroke="#000" stroke-width="4"/>
<line x1="190" y1="634.75" x2="223" y2="634.75" stroke="#000" stroke-width="4"/>
<line x1="190" y1="535.00" x2="223" y2="535.00" stroke="#000" stroke-width="4"/>
<line x1="190" y1="435.25" x2="223" y2="435.25" stroke="#000" stroke-width="4"/>
<line x1="190" y1="335.50" x2="223" y2="335.50" stroke="#000" stroke-width="4"/>
<line x1="190" y1="235.75" x2="223" y2="235.75" stroke="#000" stroke-width="4"/>
<line x1="190" y1="136.00" x2="223" y2="136.00" stroke="#000" stroke-width="4"/>
<line x1="246.00" y1="1034" x2="246.00" y2="1000" stroke="#000" stroke-width="4"/>
<line x1="414.00" y1="1034" x2="414.00" y2="1000" stroke="#000" stroke-width="4"/>
<line x1="582.00" y1="1034" x2="582.00" y2="1000" stroke="#000" stroke-width="4"/>
<line x1="750.00" y1="1034" x2="750.00" y2="1000" stroke="#000" stroke-width="4"/>
<line x1="918.00" y1="1034" x2="918.00" y2="1000" stroke="#000" stroke-width="4"/>
<line x1="1086.00" y1="1034" x2="1086.00" y2="1000" stroke="#000" stroke-width="4"/>
<line x1="1254.00" y1="1034" x2="1254.00" y2="1000" stroke="#000" stroke-width="4"/>
<line x1="1422.00" y1="1034" x2="1422.00" y2="1000" stroke="#000" stroke-width="4"/>
<line x1="1590.00" y1="1034" x2="1590.00" y2="1000" stroke="#000" stroke-width="4"/>
<rect x="223" y="65" width="999" height="231.6" fill="#fff" stroke="#000" stroke-width="2.2"/>
<line x1="284" y1="126.4" x2="391" y2="126.4" stroke="#000" stroke-width="2.8"/>
<path d="M335.60,107.90 L339.00,107.90 L355.30,125.00 L355.30,127.80 L339.00,144.90 L335.60,144.90 L319.30,127.80 L319.30,125.00Z" fill="#00f"/>
<line x1="284" y1="195" x2="391" y2="195" stroke="#000" stroke-width="2.2"/>
<ellipse cx="337.50" cy="195.20" rx="12.6" ry="13.6" fill="#fff" stroke="#000" stroke-width="2.6"/>
<line x1="284" y1="263.5" x2="391" y2="263.5" stroke="#000" stroke-width="2.8"/>
<rect x="325.00" y="249.90" width="25" height="26.8" fill="#f00"/>
<line x1="621" y1="126.4" x2="729" y2="126.4" stroke="#000" stroke-width="2.8"/>
<path d="M657.80,114.90 L692.20,114.90 L676.20,146.50 L673.80,146.50Z M675.00,140.22 L687.15,117.90 L662.85,117.90Z" fill="#f00" fill-rule="evenodd"/><path d="M662.85,117.90 L687.15,117.90 L675.00,140.22Z" fill="#fff"/>
<line x1="615" y1="195" x2="722" y2="195" stroke="#000" stroke-width="2.2"/>
<path d="M668.30,178.17 L672.48,188.53 L683.11,189.52 L675.06,196.92 L677.45,207.90 L668.30,202.11 L659.15,207.90 L661.54,196.92 L653.49,189.52 L664.12,188.53Z" fill="#fff" stroke="#00f" stroke-width="3.1" stroke-linejoin="miter" stroke-miterlimit="2.2"/>
<line x1="617" y1="263" x2="724.5" y2="263" stroke="#000" stroke-width="2.8"/>
<path d="M669.50,243.00 L672.10,243.00 L688.00,271.80 L688.00,274.50 L653.60,274.50 L653.60,271.80Z" fill="#a0a0a0"/>
<text transform="translate(415.39,146.80) scale(0.9372,1)" font-size="52" fill="#000">Bedroom</text>
<text transform="translate(412.39,215.10) scale(0.9375,1)" font-size="52" fill="#000">Kitchen</text>
<text transform="translate(412.39,284.50) scale(0.9380,1)" font-size="52" fill="#000">Hall</text>
<text transform="translate(753.35,147.00) scale(0.9320,1)" font-size="52" fill="#000">Storage room(west)</text>
<text transform="translate(745.36,215.20) scale(0.9286,1)" font-size="52" fill="#000">Storage room(middle)</text>
<text transform="translate(746.38,284.60) scale(0.9390,1)" font-size="52" fill="#000">Living room</text>
<text transform="translate(101.24,52.05) scale(0.9891,1)" font-size="56.5" fill="#000">20</text>
<text transform="translate(104.24,151.80) scale(0.9376,1)" font-size="56.5" fill="#000">18</text>
<text transform="translate(104.27,251.55) scale(0.9311,1)" font-size="56.5" fill="#000">16</text>
<text transform="translate(104.34,351.30) scale(0.9166,1)" font-size="56.5" fill="#000">14</text>
<text transform="translate(104.15,451.05) scale(0.9562,1)" font-size="56.5" fill="#000">12</text>
<text transform="translate(104.25,550.80) scale(0.9356,1)" font-size="56.5" fill="#000">10</text>
<text transform="translate(129.10,650.55) scale(1.0000,1)" font-size="56.5" fill="#000">8</text>
<text transform="translate(128.65,750.30) scale(1.0000,1)" font-size="56.5" fill="#000">6</text>
<text transform="translate(127.85,850.05) scale(1.0000,1)" font-size="56.5" fill="#000">4</text>
<text transform="translate(130.16,949.80) scale(1.0000,1)" font-size="56.5" fill="#000">2</text>
<text transform="translate(129.20,1049.55) scale(1.0000,1)" font-size="56.5" fill="#000">0</text>
<text transform="translate(199.81,1113.20) scale(0.9336,1)" font-size="56.2" fill="#000">8:00</text>
<text transform="translate(354.45,1113.20) scale(0.9608,1)" font-size="56.2" fill="#000">11:00</text>
<text transform="translate(522.53,1113.20) scale(0.9443,1)" font-size="56.2" fill="#000">14:00</text>
<text transform="translate(690.77,1113.20) scale(0.9360,1)" font-size="56.2" fill="#000">17:00</text>
<text transform="translate(856.53,1113.20) scale(0.9586,1)" font-size="56.2" fill="#000">20:00</text>
<text transform="translate(1024.93,1113.20) scale(0.9594,1)" font-size="56.2" fill="#000">23:00</text>
<text transform="translate(1205.41,1113.20) scale(0.9663,1)" font-size="56.2" fill="#000">2:00</text>
<text transform="translate(1375.83,1113.20) scale(0.9426,1)" font-size="56.2" fill="#000">5:00</text>
<text transform="translate(1544.50,1113.20) scale(0.9346,1)" font-size="56.2" fill="#000">8:00</text>
<text transform="translate(819.57,1196.20) scale(0.9342,1)" font-size="61" fill="#000">Time (h)</text>
<text transform="translate(70.30,875.95) rotate(-90) scale(0.9792,1)" font-size="61">Indoor air temperature (</text>
<text transform="translate(43.45,305.00) rotate(-90) scale(1.0000,1)" font-size="50">o</text>
<text transform="translate(70.30,278.47) rotate(-90) scale(0.9890,1)" font-size="61">C)</text>
</svg>
</body></html>
